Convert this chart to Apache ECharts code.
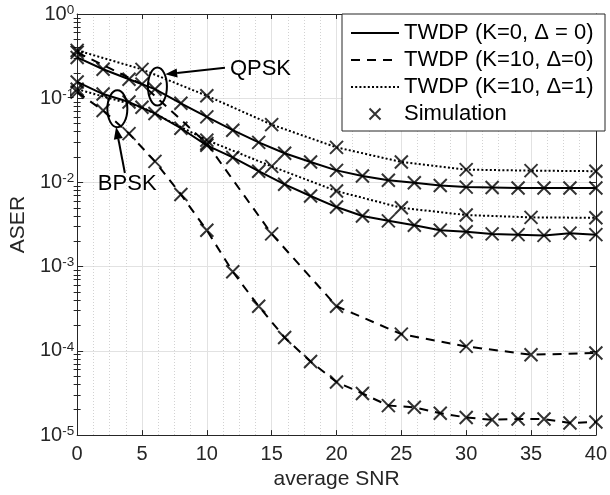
<!DOCTYPE html>
<html><head><meta charset="utf-8">
<script src="https://cdn.jsdelivr.net/npm/echarts@6/dist/echarts.min.js"></script>
<style>html,body{margin:0;padding:0;background:#fff}#c{width:610px;height:495px}</style>
</head><body><div id="c"></div>
<script>
// ---------------- data ----------------
const snrStep2 = [0,2,4,6,8,10,12,14,16,18,20,22,24,26,28,30,32,34,36,38,40];
const snrStep5 = [0,5,10,15,20,25,30,35,40];
// TWDP (K=0, Δ=0)  (markers every 2 dB)
const qpskK0D0 = [0.305,0.221,0.168,0.128,0.087,0.060,0.0417,0.0299,0.0222,0.0175,0.0139,0.0119,0.0106,0.0099,0.0092,0.0088,0.0087,0.0086,0.0086,0.0086,0.0086];
const bpskK0D0 = [0.156,0.112,0.090,0.066,0.044,0.0276,0.0198,0.0136,0.0095,0.0069,0.0051,0.0040,0.0035,0.0031,0.0027,0.0026,0.00245,0.0024,0.00235,0.0025,0.0024];
// TWDP (K=10, Δ=0)
const qpskK10D0 = [0.35,0.147,0.029,0.00245,0.000339,0.000158,0.000113,0.000090,0.0000945];       // every 5 dB
const bpskK10D0 = [0.118,0.0716,0.038,0.0178,0.0072,0.0027,0.00087,0.000339,0.000144,0.0000747,0.0000427,0.0000312,0.0000224,0.0000214,0.0000182,0.0000162,0.0000152,0.0000155,0.0000155,0.0000139,0.0000143]; // every 2 dB
// TWDP (K=10, Δ=1)  (every 5 dB)
const qpskK10D1 = [0.37,0.22,0.107,0.0486,0.0261,0.0175,0.0142,0.0138,0.0136];
const bpskK10D1 = [0.128,0.078,0.0318,0.0155,0.0079,0.0050,0.0041,0.00385,0.0038];

const xTicks = [0,5,10,15,20,25,30,35,40];
const legendNames = ['TWDP (K=0, \u0394 = 0)','TWDP (K=10, \u0394=0)','TWDP (K=10, \u0394=1)','Simulation'];

// annotations (data coordinates)
const qpskEllipse = [6.19, 0.1375];
const bpskEllipse = [3.10, 0.0749];
const qpskArrow = [[11.4, 0.2297],[6.79, 0.1927]];
const bpskArrow = [[3.68, 0.01296],[3.0, 0.0455]];
const qpskLabelPos = [11.78, 0.2206];
const bpskLabelPos = [3.86, 0.0095];

// ---------------- chart ----------------
const FONT = 'Liberation Sans, Arial, Helvetica, sans-serif';
const AX = '#262626';
const pair = (xs, ys) => xs.map((x, i) => [x, ys[i]]);

const minorLogs = [];
for (let d = -5; d < 0; d++) for (let k = 2; k <= 9; k++) minorLogs.push(d + Math.log10(k));

const curves = [
  {name: legendNames[0], x: snrStep2, y: qpskK0D0, type: 'solid'},
  {name: legendNames[0], x: snrStep2, y: bpskK0D0, type: 'solid'},
  {name: legendNames[1], x: snrStep5, y: qpskK10D0, type: [9, 7]},
  {name: legendNames[1], x: snrStep2, y: bpskK10D0, type: [9, 7]},
  {name: legendNames[2], x: snrStep5, y: qpskK10D1, type: [2, 2.2]},
  {name: legendNames[2], x: snrStep5, y: bpskK10D1, type: [2, 2.2]}
];

const series = curves.map(c => ({
  type: 'line', name: c.name, data: pair(c.x, c.y), symbol: 'none',
  lineStyle: {color: '#000', width: 2, type: c.type}, itemStyle: {color: '#000'},
  animation: false, z: 3
}));
let simData = [];
curves.forEach(c => { simData = simData.concat(pair(c.x, c.y)); });
series.push({
  type: 'scatter', name: legendNames[3], data: simData,
  symbol: 'path://M0,0L10,10M10,0L0,10', symbolSize: 13,
  itemStyle: {color: 'rgba(0,0,0,0)', borderColor: '#000', borderWidth: 2},
  animation: false, z: 4
});

const chart = echarts.init(document.getElementById('c'), null, {renderer: 'canvas'});
chart.setOption({
  animation: false,
  backgroundColor: '#fff',
  textStyle: {fontFamily: FONT},
  grid: {left: 68, right: 8, top: 14, bottom: 54, containLabel: false},
  legend: {
    orient: 'vertical', left: 342, top: 14, padding: [7, 9, 5, 8],
    itemWidth: 48, itemHeight: 11, itemGap: 3,
    backgroundColor: '#fff', borderColor: AX, borderWidth: 1, borderRadius: 0,
    textStyle: {fontSize: 22, color: '#000', width: 192, lineHeight: 24, fontFamily: FONT},
    data: [
      {name: legendNames[0], itemStyle: {opacity: 0}},
      {name: legendNames[1], itemStyle: {opacity: 0}},
      {name: legendNames[2], itemStyle: {opacity: 0}},
      {name: legendNames[3]}
    ],
    selectedMode: false, z: 10
  },
  xAxis: [{
    type: 'value', min: 0, max: 40, interval: 5, position: 'bottom',
    name: 'average SNR', nameLocation: 'middle', nameGap: 30,
    nameTextStyle: {fontSize: 21, color: AX, fontFamily: FONT},
    axisLine: {show: true, onZero: false, lineStyle: {color: AX, width: 1}},
    axisTick: {show: true, inside: true, length: 5, lineStyle: {color: AX}},
    axisLabel: {fontSize: 20, color: AX, margin: 9, fontFamily: FONT,
      formatter: v => xTicks.indexOf(v) >= 0 ? String(v) : ''},
    splitLine: {show: true, lineStyle: {color: '#e2e2e2', width: 1}},
    minorTick: {show: false, splitNumber: 4},
    minorSplitLine: {show: true, lineStyle: {color: '#d2d2d2', width: 1, type: [1, 2]}}
  }, {
    type: 'value', min: 0, max: 40, interval: 5, position: 'top',
    axisLine: {show: true, onZero: false, lineStyle: {color: AX, width: 1}},
    axisTick: {show: true, inside: true, length: 5, lineStyle: {color: AX}},
    axisLabel: {show: false}, splitLine: {show: false}
  }],
  yAxis: [{
    type: 'log', logBase: 10, min: 1e-5, max: 1, position: 'left',
    name: 'ASER', nameLocation: 'middle', nameGap: 38,
    nameTextStyle: {fontSize: 21, color: AX, fontFamily: FONT},
    axisLine: {show: true, onZero: false, lineStyle: {color: AX, width: 1}},
    axisTick: {show: true, inside: true, length: 6, lineStyle: {color: AX}},
    axisLabel: {
      margin: 3, color: AX,
      formatter: v => '{b|10}{s|' + Math.round(Math.log10(v)) + '}',
      rich: {
        b: {fontSize: 20, color: AX, fontFamily: FONT},
        s: {fontSize: 13.5, color: AX, fontFamily: FONT, padding: [0, 0, 8, 0]}
      }
    },
    splitLine: {show: true, lineStyle: {color: '#e2e2e2', width: 1}}
  }, {
    type: 'log', logBase: 10, min: 1e-5, max: 1, position: 'right',
    axisLine: {show: true, onZero: false, lineStyle: {color: AX, width: 1}},
    axisTick: {show: true, inside: true, length: 6, lineStyle: {color: AX}},
    axisLabel: {show: false}, splitLine: {show: false}
  }, {
    type: 'value', min: -5, max: 0, position: 'left',
    axisLine: {show: false},
    axisTick: {show: true, inside: true, length: 3.5, customValues: minorLogs, lineStyle: {color: AX}},
    axisLabel: {show: false}, splitLine: {show: false}
  }, {
    type: 'value', min: -5, max: 0, position: 'right',
    axisLine: {show: false},
    axisTick: {show: true, inside: true, length: 3.5, customValues: minorLogs, lineStyle: {color: AX}},
    axisLabel: {show: false}, splitLine: {show: false}
  }],
  series: series
});

// ---------------- annotations ----------------
const px = p => [chart.convertToPixel({xAxisIndex: 0}, p[0]), chart.convertToPixel({yAxisIndex: 0}, p[1])];
function arrowEls(a) {
  const f = px(a[0]), t = px(a[1]);
  const dx = t[0] - f[0], dy = t[1] - f[1], L = Math.hypot(dx, dy);
  const ux = dx / L, uy = dy / L, hl = 12, hw = 4.5;
  const bx = t[0] - ux * hl, by = t[1] - uy * hl;
  return [
    {type: 'line', shape: {x1: f[0], y1: f[1], x2: bx, y2: by}, style: {stroke: '#000', lineWidth: 2}, z: 20},
    {type: 'polygon', shape: {points: [[t[0], t[1]], [bx - uy * hw, by + ux * hw], [bx + uy * hw, by - ux * hw]]}, style: {fill: '#000'}, z: 20}
  ];
}
const qe = px(qpskEllipse), be = px(bpskEllipse), ql = px(qpskLabelPos), bl = px(bpskLabelPos);
chart.setOption({
  graphic: [
    {type: 'ellipse', shape: {cx: qe[0], cy: qe[1], rx: 9.5, ry: 19}, style: {fill: 'none', stroke: '#000', lineWidth: 2}, z: 20},
    {type: 'ellipse', shape: {cx: be[0], cy: be[1], rx: 10, ry: 18.5}, style: {fill: 'none', stroke: '#000', lineWidth: 2}, z: 20},
    ...arrowEls(qpskArrow), ...arrowEls(bpskArrow),
    {type: 'text', x: ql[0], y: ql[1], style: {text: 'QPSK', fontSize: 22, fontFamily: FONT, fill: '#000', align: 'left', verticalAlign: 'middle'}, z: 20},
    {type: 'text', x: bl[0], y: bl[1], style: {text: 'BPSK', fontSize: 22, fontFamily: FONT, fill: '#000', align: 'center', verticalAlign: 'middle'}, z: 20}
  ]
});
</script></body></html>
